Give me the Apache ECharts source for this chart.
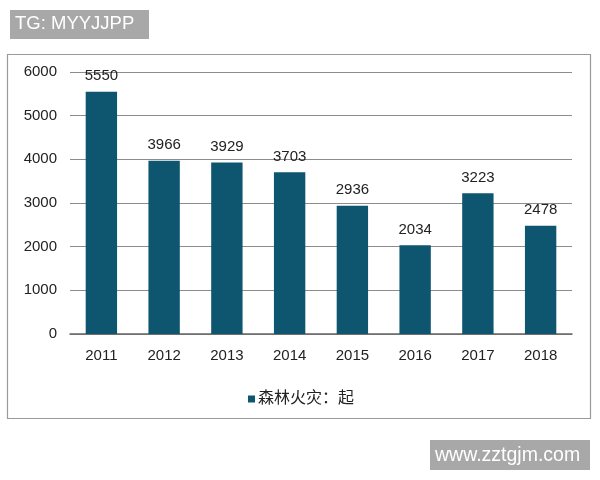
<!DOCTYPE html>
<html>
<head>
<meta charset="utf-8">
<script src="https://cdn.jsdelivr.net/npm/echarts@6/dist/echarts.min.js"></script>
<style>
  html, body { margin: 0; padding: 0; background: #fff; }
  #chart1 { width: 600px; height: 480px; }
</style>
</head>
<body>
<div id="chart1"></div>
<script>
// 森林火灾 counts per year
var years = ['2011', '2012', '2013', '2014', '2015', '2016', '2017', '2018'];
var fires = [5550, 3966, 3929, 3703, 2936, 2034, 3223, 2478];
var yTicks = [0, 1000, 2000, 3000, 4000, 5000, 6000];

var barColor = '#0e5670';
var font = 'Arial, "Liberation Sans", "Noto Sans CJK SC", sans-serif';

var myChart1 = echarts.init(document.getElementById('chart1'));

var option = {
    animation: false,
    textStyle: { fontFamily: font },
    grid: {
        left: 70,
        right: 28,
        top: 72,
        bottom: 146
    },
    legend: {
        data: ['森林火灾：起'],
        left: 243,
        top: 386,
        icon: 'rect',
        itemWidth: 7,
        itemHeight: 7,
        itemGap: 4,
        textStyle: {
            fontSize: 16,
            color: '#222',
            fontFamily: font,
            padding: [0, 0, 0, -2]
        }
    },
    xAxis: {
        type: 'category',
        data: years,
        axisTick: { show: false },
        axisLine: { lineStyle: { color: '#666', width: 1.5 } },
        axisLabel: {
            color: '#222',
            fontSize: 15,
            margin: 14
        }
    },
    yAxis: {
        type: 'value',
        min: yTicks[0],
        max: yTicks[yTicks.length - 1],
        interval: 1000,
        axisLine: { show: false },
        axisTick: { show: false },
        axisLabel: {
            color: '#222',
            fontSize: 15,
            margin: 13,
            formatter: function (v) { return String(v); }
        },
        splitLine: { lineStyle: { color: '#8c8c8c', width: 1 } }
    },
    series: [
        {
            name: '森林火灾：起',
            type: 'bar',
            data: fires,
            barWidth: '50%',
            itemStyle: { color: barColor },
            label: {
                show: true,
                position: 'top',
                distance: 8,
                color: '#222',
                fontSize: 15
            }
        }
    ],
    graphic: [
        {
            type: 'rect',
            shape: { x: 7.5, y: 54.5, width: 583, height: 364 },
            style: { fill: 'none', stroke: '#9a9a9a', lineWidth: 1.2 },
            z: -1
        },
        {
            type: 'rect',
            shape: { x: 10, y: 10, width: 139, height: 29 },
            style: { fill: '#a8a8a8' }
        },
        {
            type: 'text',
            left: 15,
            top: 15,
            style: { text: 'TG: MYYJJPP', fill: '#fff', fontSize: 18.5, fontFamily: font }
        },
        {
            type: 'rect',
            shape: { x: 430, y: 440, width: 160, height: 30 },
            style: { fill: '#a8a8a8' }
        },
        {
            type: 'text',
            left: 435,
            top: 446,
            style: { text: 'www.zztgjm.com', fill: '#fff', fontSize: 19.5, fontFamily: font }
        }
    ]
};

myChart1.setOption(option);
</script>
</body>
</html>
